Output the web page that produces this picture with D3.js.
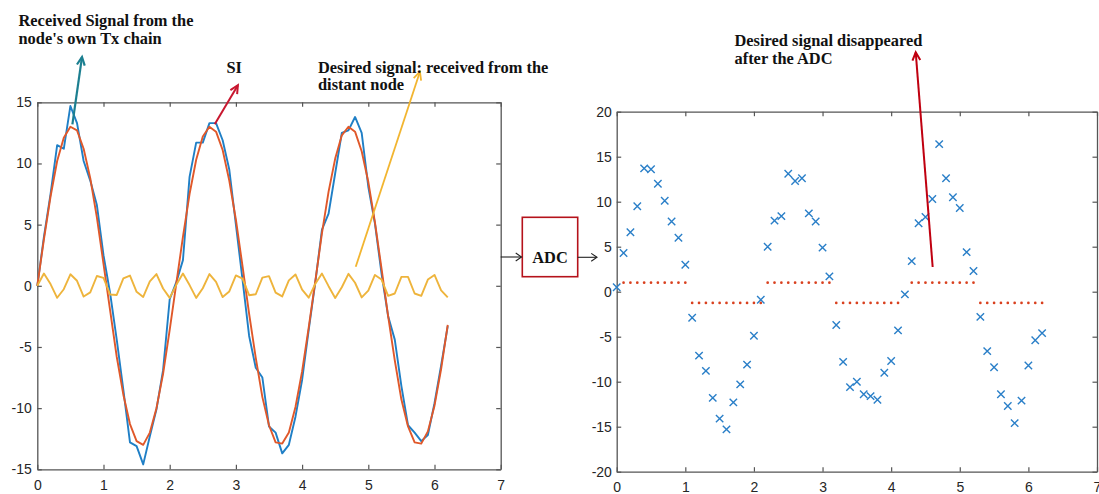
<!DOCTYPE html>
<html><head><meta charset="utf-8">
<script src="https://cdn.jsdelivr.net/npm/d3@7"></script>
<style>body{margin:0;background:#fff}svg{display:block;background:#fff}</style>
</head><body><svg id="c" width="1099" height="494"></svg>
<script>
// ---------- DATA ----------
const tValues = [0,0.1,0.2,0.3,0.4,0.5,0.6,0.7,0.8,0.9,1.0,1.1,1.2,1.3,1.4,1.5,1.6,1.7,1.8,1.9,2.0,
  2.1,2.2,2.3,2.4,2.5,2.6,2.7,2.8,2.9,3.0,3.1,3.2,3.3,3.4,3.5,3.6,3.7,3.8,3.9,4.0,4.1,
  4.2,4.3,4.4,4.5,4.6,4.7,4.8,4.9,5.0,5.1,5.2,5.3,5.4,5.5,5.6,5.7,5.8,5.9,6.0,6.1,6.2];

// Received signal (blue)
const receivedSignal = [0,4.0,7.5,11.5,11.2,14.7,13.3,10.2,8.6,6.6,2.5,
  -0.6,-4.4,-8.5,-12.8,-13.1,-14.6,-12.3,-10.1,-6.9,-1.1,
  0.3,2.1,8.9,11.7,11.7,13.3,13.3,11.9,9.5,5.0,0.5,
  -4.1,-6.7,-7.5,-11.5,-12.0,-13.7,-13.0,-10.7,-7.7,-3.6,0.3,
  4.6,5.9,9.2,12.5,12.7,13.8,12.5,8.1,5.1,1.0,
  -2.5,-4.4,-8.2,-11.4,-12.0,-12.7,-12.2,-9.6,-6.5,-3.3];

// Self-interference (orange)
const siSignal = [0,3.8,7.3,10.2,12.1,13.0,12.7,11.2,8.8,5.6,1.8,
  -2.0,-5.8,-8.9,-11.3,-12.7,-13.0,-12.0,-10.0,-7.2,-3.6,
  0.2,4.0,7.5,10.3,12.2,13.0,12.6,11.1,8.6,5.4,1.6,
  -2.3,-5.9,-9.1,-11.4,-12.8,-12.9,-12.0,-9.9,-7.0,-3.4,0.4,
  4.3,7.7,10.4,12.3,13.0,12.6,11.0,8.5,5.2,1.4,
  -2.5,-6.1,-9.3,-11.5,-12.8,-12.9,-11.9,-9.8,-6.8,-3.2];

// Desired signal (yellow)
const desiredSignal = [0,1.0,0.14,-0.98,-0.28,0.94,0.41,-0.88,-0.54,0.80,0.65,
  -0.71,-0.75,0.61,0.84,-0.49,-0.91,0.36,0.96,-0.22,-0.99,
  0.08,1.0,0.06,-0.99,-0.20,0.96,0.33,-0.92,-0.46,0.85,0.58,
  -0.77,-0.69,0.67,0.79,-0.56,-0.87,0.44,0.93,-0.31,-0.97,0.17,
  1.0,-0.03,-1.0,-0.12,0.98,0.25,-0.95,-0.39,0.89,0.51,
  -0.82,-0.63,0.73,0.73,-0.63,-0.82,0.51,0.89,-0.38,-0.95];

// ADC output samples (blue crosses)
const adcSamples = [0.5,4.3,6.6,9.5,13.7,13.6,12.0,10.1,7.8,6.0,3.0,
  -2.9,-7.1,-8.8,-11.8,-14.1,-15.3,-12.3,-10.3,-8.1,-4.9,-0.9,
  5.0,7.9,8.4,13.1,12.3,12.6,8.7,7.8,4.9,1.7,
  -3.7,-7.8,-10.6,-10.0,-11.4,-11.6,-12.0,-9.0,-7.7,-4.3,-0.3,
  3.4,7.6,8.3,10.3,16.4,12.6,10.5,9.3,4.4,2.3,
  -2.8,-6.6,-8.4,-11.4,-12.7,-14.6,-12.1,-8.2,-5.4,-4.6];

// Desired signal level after ADC (red dotted), null = absent
const desiredAfterADC = [null,1,1,1,1,1,1,1,1,1,1,
  -1.25,-1.25,-1.25,-1.25,-1.25,-1.25,-1.25,-1.25,-1.25,-1.25,-1.25,
  1,1,1,1,1,1,1,1,1,1,
  -1.25,-1.25,-1.25,-1.25,-1.25,-1.25,-1.25,-1.25,-1.25,-1.25,null,
  1,1,1,1,1,1,1,1,1,1,
  -1.25,-1.25,-1.25,-1.25,-1.25,-1.25,-1.25,-1.25,-1.25,-1.25];

const xTicks = [0,1,2,3,4,5,6,7];
const leftYTicks = [-15,-10,-5,0,5,10,15];
const rightYTicks = [-20,-15,-10,-5,0,5,10,15,20];

// ---------- LAYOUT ----------
const svg = d3.select('#c');
const L = {x0:37.3, x1:500.7, y0:469.3, y1:102.3};
const R = {x0:616.7, x1:1097, y0:471.7, y1:111.7};

const xL = d3.scaleLinear().domain([0,7]).range([L.x0, L.x1]);
const yL = d3.scaleLinear().domain([-15,15]).range([L.y0, L.y1]);
const xR = d3.scaleLinear().domain([0,7]).range([R.x0, R.x1]);
const yR = d3.scaleLinear().domain([-20,20]).range([R.y0, R.y1]);

const axisColor = '#555';
const fmt = d => String(d);
function drawFrame(x, y, B, pad) {
  const tl = 4.5;
  const g = svg.append('g');
  g.append('g').attr('transform', `translate(0,${B.y0})`)
    .call(d3.axisBottom(x).tickValues(xTicks).tickFormat(fmt).tickSizeInner(-tl).tickSizeOuter(0).tickPadding(pad.xb));
  g.append('g').attr('transform', `translate(0,${B.y1})`)
    .call(d3.axisTop(x).tickValues(xTicks).tickFormat('').tickSizeInner(-tl).tickSizeOuter(0));
  g.append('g').attr('transform', `translate(${B.x0},0)`)
    .call(d3.axisLeft(y).tickValues(pad.yt).tickFormat(fmt).tickSizeInner(-tl).tickSizeOuter(0).tickPadding(pad.yl));
  g.append('g').attr('transform', `translate(${B.x1},0)`)
    .call(d3.axisRight(y).tickValues(pad.yt).tickFormat('').tickSizeInner(-tl).tickSizeOuter(0));
  g.selectAll('.domain').attr('stroke', axisColor).attr('stroke-width', 1.3);
  g.selectAll('.tick line').attr('stroke', axisColor).attr('stroke-width', 1.2);
  g.selectAll('.tick text').attr('fill', '#262626')
    .style('font-family', '"Liberation Sans", Arial, sans-serif').style('font-size', '14px');
}
drawFrame(xL, yL, L, {xb:10.5, yl:5.6, yt:leftYTicks});
drawFrame(xR, yR, R, {xb:10, yl:4.8, yt:rightYTicks});

// ---------- LEFT PLOT LINES ----------
const mk = arr => tValues.map((t,i) => ({t, v: arr[i]}));
const lineL = d3.line().x(d => xL(d.t)).y(d => yL(d.v));
const seriesL = [
  {data: receivedSignal, color: '#1f7fc6'},
  {data: siSignal, color: '#e0582a'},
  {data: desiredSignal, color: '#eeb43c'}
];
seriesL.forEach(s => {
  svg.append('path').datum(mk(s.data)).attr('d', lineL)
    .attr('fill','none').attr('stroke', s.color).attr('stroke-width', 1.9)
    .attr('stroke-linejoin','round');
});

// ---------- RIGHT PLOT ----------
svg.append('g').selectAll('circle')
  .data(mk(desiredAfterADC).filter(d => d.v !== null))
  .join('circle')
  .attr('cx', d => xR(d.t)).attr('cy', d => yR(d.v)).attr('r', 1.35)
  .attr('fill', '#d9401e');

svg.append('g').selectAll('path')
  .data(mk(adcSamples))
  .join('path')
  .attr('transform', d => `translate(${xR(d.t)},${yR(d.v)})`)
  .attr('d', 'M-3.7,-3.7L3.7,3.7M-3.7,3.7L3.7,-3.7')
  .attr('stroke', '#2a7fc8').attr('stroke-width', 1.4).attr('fill','none');

// ---------- ANNOTATIONS ----------
function arrow(x1,y1,x2,y2,color,w,head,ang) {
  svg.append('line').attr('x1',x1).attr('y1',y1).attr('x2',x2).attr('y2',y2)
    .attr('stroke',color).attr('stroke-width',w);
  const a = Math.atan2(y2-y1, x2-x1);
  const p = s => [x2 - head*Math.cos(a + s*ang), y2 - head*Math.sin(a + s*ang)];
  const p1 = p(1), p2 = p(-1);
  svg.append('path').attr('d', `M${p1[0]},${p1[1]}L${x2},${y2}L${p2[0]},${p2[1]}`)
    .attr('fill','none').attr('stroke',color).attr('stroke-width',w).attr('stroke-linejoin','miter');
}
arrow(xL(0.53), yL(13.2), xL(0.675), yL(18.7), '#1c7f90', 2.2, 9, 0.45);
arrow(xL(2.68), yL(13.2), xL(3.03), yL(16.4), '#c8172f', 2.0, 9, 0.45);
arrow(xL(4.81), yL(1.55), xL(5.78), yL(17.5), '#f2b530', 1.8, 9, 0.45);
arrow(xR(4.605), yR(2.74), xR(4.358), yR(26.6), '#c00010', 2.0, 9, 0.45);

const serif = '"Liberation Serif", "Times New Roman", serif';
const labels = [
  {x:18.5, y:25.5, t:"Received Signal from the"},
  {x:18.5, y:43.6, t:"node's own Tx chain"},
  {x:226.5, y:72.5, t:"SI"},
  {x:318, y:72.5, t:"Desired signal: received from the"},
  {x:318, y:90, t:"distant node"},
  {x:734.5, y:45.5, t:"Desired signal disappeared"},
  {x:734.5, y:63.6, t:"after the ADC"}
];
svg.append('g').selectAll('text').data(labels).join('text')
  .attr('x', d => d.x).attr('y', d => d.y).text(d => d.t)
  .style('font-family', serif).style('font-weight','bold').style('font-size','16.4px')
  .attr('fill','#111');

// ADC block
svg.append('rect').attr('x',522.3).attr('y',217.3).attr('width',55.4).attr('height',59.4)
  .attr('fill','#fff').attr('stroke','#b5121b').attr('stroke-width',1.6);
svg.append('text').attr('x',550).attr('y',262.5).attr('text-anchor','middle').text('ADC')
  .style('font-family', serif).style('font-weight','bold').style('font-size','16.4px').attr('fill','#111');
arrow(L.x1, 257, 521.5, 257, '#222', 1.1, 7, 0.6);
arrow(577.7, 257.3, 597, 257.3, '#222', 1.1, 7, 0.6);
</script></body></html>
